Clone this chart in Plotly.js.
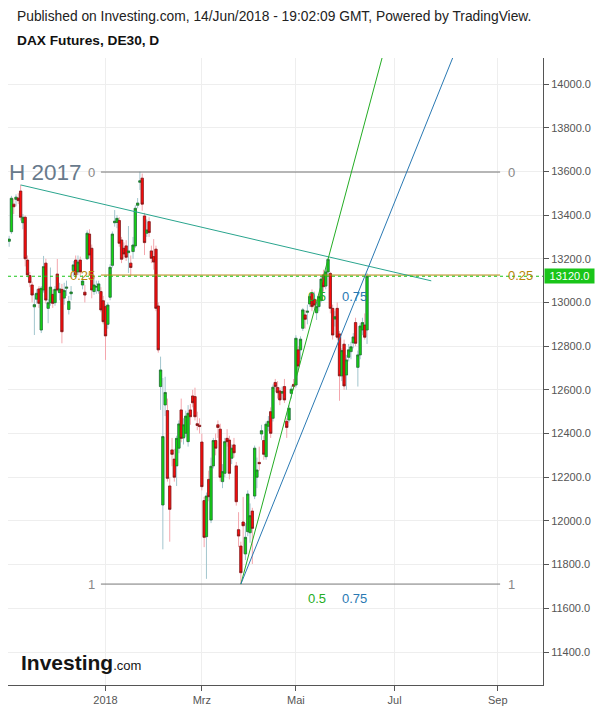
<!DOCTYPE html>
<html><head><meta charset="utf-8">
<script src="https://cdn.plot.ly/plotly-3.0.1.min.js"></script>
<style>html,body{margin:0;padding:0;background:#fff;}#chart{width:600px;height:708px;}</style>
</head><body><div id="chart"></div>
<script>
// ---- daily OHLC, DAX Futures (DE30), 31 Oct 2017 – 14 Jun 2018 ----
const dates = [
 '2017-10-31',
 '2017-11-01','2017-11-02','2017-11-03','2017-11-06','2017-11-07','2017-11-08','2017-11-09','2017-11-10','2017-11-13','2017-11-14','2017-11-15','2017-11-16','2017-11-17','2017-11-20','2017-11-21','2017-11-22','2017-11-23','2017-11-24','2017-11-27','2017-11-28','2017-11-29','2017-11-30',
 '2017-12-01','2017-12-04','2017-12-05','2017-12-06','2017-12-07','2017-12-08','2017-12-11','2017-12-12','2017-12-13','2017-12-14','2017-12-15','2017-12-18','2017-12-19','2017-12-20','2017-12-21','2017-12-22','2017-12-27','2017-12-28','2017-12-29',
 '2018-01-02','2018-01-03','2018-01-04','2018-01-05','2018-01-08','2018-01-09','2018-01-10','2018-01-11','2018-01-12','2018-01-15','2018-01-16','2018-01-17','2018-01-18','2018-01-19','2018-01-22','2018-01-23','2018-01-24','2018-01-25','2018-01-26','2018-01-29','2018-01-30','2018-01-31',
 '2018-02-01','2018-02-02','2018-02-05','2018-02-06','2018-02-07','2018-02-08','2018-02-09','2018-02-12','2018-02-13','2018-02-14','2018-02-15','2018-02-16','2018-02-19','2018-02-20','2018-02-21','2018-02-22','2018-02-23','2018-02-26','2018-02-27','2018-02-28',
 '2018-03-01','2018-03-02','2018-03-05','2018-03-06','2018-03-07','2018-03-08','2018-03-09','2018-03-12','2018-03-13','2018-03-14','2018-03-15','2018-03-16','2018-03-19','2018-03-20','2018-03-21','2018-03-22','2018-03-23','2018-03-26','2018-03-27','2018-03-28','2018-03-29',
 '2018-04-03','2018-04-04','2018-04-05','2018-04-06','2018-04-09','2018-04-10','2018-04-11','2018-04-12','2018-04-13','2018-04-16','2018-04-17','2018-04-18','2018-04-19','2018-04-20','2018-04-23','2018-04-24','2018-04-25','2018-04-26','2018-04-27','2018-04-30',
 '2018-05-02','2018-05-03','2018-05-04','2018-05-07','2018-05-08','2018-05-09','2018-05-10','2018-05-11','2018-05-14','2018-05-15','2018-05-16','2018-05-17','2018-05-18','2018-05-21','2018-05-22','2018-05-23','2018-05-24','2018-05-25','2018-05-28','2018-05-29','2018-05-30','2018-05-31',
 '2018-06-01','2018-06-04','2018-06-05','2018-06-06','2018-06-07','2018-06-08','2018-06-11','2018-06-12','2018-06-13','2018-06-14'
];
const open = [
 13280,
 13324,13450,13472,13478,13510,13365,13390,13194,13123,13080,12980,13015,13062,12874,13057,13180,12973,12999,13037,12999,13130,13045,
 13060,13020,13065,12968,13040,13146,13194,13140,13194,13080,13047,13200,13313,13248,13050,13070,13053,13050,13008,
 12981,12900,13024,13170,13365,13366,13375,13286,13248,13259,13228,13180,13233,13259,13445,13550,13569,13396,13317,13370,13236,13210,
 13244,12984,12615,12073,12531,12505,12160,12325,12283,12252,12333,12508,12380,12401,12363,12508,12572,12569,12445,12438,
 12361,12093,11928,12190,12004,12252,12368,12440,12420,12180,12218,12378,12370,12287,12348,12252,11960,11885,11995,11849,11951,
 11946,12045,12114,12200,12268,12398,12368,12294,12433,12500,12470,12634,12611,12595,12585,12615,12456,12462,12584,12625,
 12622,12783,12783,12882,12943,12955,12993,13042,13015,12953,12981,13011,13126,13075,13140,13133,12973,12924,12973,12856,12664,12809,
 12668,12749,12775,12815,12908,12703,12760,12874,12897,12874
];
const high = [
 13305,
 13488,13475,13495,13500,13538,13405,13398,13215,13140,13095,13040,13060,13075,13075,13213,13200,13015,13160,13060,13075,13199,13090,
 13085,13090,13100,13030,13075,13190,13215,13215,13210,13125,13080,13330,13335,13265,13110,13100,13100,13070,13030,
 12990,13000,13175,13325,13423,13400,13390,13300,13275,13285,13350,13215,13300,13445,13478,13599,13590,13410,13380,13390,13260,13290,
 13260,13000,12752,12654,12660,12560,12200,12380,12330,12390,12460,12560,12470,12505,12530,12535,12600,12610,12500,12470,
 12400,12110,12130,12230,12290,12380,12400,12460,12445,12260,12380,12420,12390,12350,12380,12270,12040,11905,12110,11990,12140,
 12080,12060,12345,12290,12340,12440,12390,12455,12480,12520,12625,12650,12640,12610,12615,12650,12470,12530,12620,12650,
 12850,12800,12845,12975,12965,12990,13040,13060,13050,13000,13035,13120,13150,13150,13205,13140,12990,12960,13000,12870,12790,12830,
 12760,12810,12820,12860,12930,12780,12905,12930,12950,13135
];
const low = [
 13255,
 13314,13405,13440,13450,13375,13335,13165,13115,13070,13000,12851,12995,12975,12860,13045,12995,12905,12985,12975,12985,13050,13010,
 12813,12990,13030,12945,13010,13120,13110,13125,13120,13060,13000,13195,13200,13019,13035,13040,13040,12955,12900,
 12737,12880,13010,13160,13347,13340,13255,13180,13200,13190,13135,13120,13200,13250,13431,13515,13420,13217,13300,13300,13180,13150,
 12960,12770,12508,11870,12480,12180,11905,12250,12180,12160,12310,12360,12350,12385,12340,12440,12520,12460,12415,12400,
 12140,11880,11735,12090,11990,12240,12300,12380,12180,12150,12200,12340,12190,12260,12290,12070,11880,11711,11850,11821,11930,
 11900,11803,12100,12150,12230,12370,12280,12280,12410,12380,12455,12590,12560,12530,12555,12540,12380,12450,12560,12600,
 12610,12680,12740,12870,12880,12900,12980,12960,12970,12920,12960,13000,13050,13060,13125,12950,12830,12890,12830,12550,12640,12600,
 12600,12730,12740,12790,12800,12615,12740,12850,12830,12810
];
const close = [
 13290,
 13477,13438,13482,13466,13390,13390,13200,13126,13091,13034,12990,13042,12996,13065,13164,13011,12999,13070,12996,13060,13057,13062,
 12866,13055,13070,13005,13048,13172,13126,13185,13140,13098,13034,13317,13217,13057,13080,13073,13085,12966,12912,
 12847,12988,13161,13313,13372,13385,13271,13198,13222,13207,13236,13160,13263,13431,13455,13557,13450,13274,13332,13320,13202,13185,
 12973,12783,12691,12386,12588,12195,12053,12305,12200,12378,12444,12378,12440,12480,12493,12477,12541,12477,12437,12432,
 12157,11925,12114,12111,12250,12368,12333,12428,12200,12226,12363,12363,12218,12333,12312,12088,11931,11763,11978,11925,12123,
 12024,11966,12333,12233,12262,12413,12305,12443,12456,12401,12612,12615,12587,12554,12592,12554,12428,12516,12603,12616,
 12836,12709,12832,12966,12923,12960,13027,12981,12988,12981,13027,13107,13072,13140,13197,12973,12851,12935,12841,12664,12780,12618,
 12737,12783,12797,12842,12813,12760,12892,12908,12841,13120
];

// ---- axis ----
const tickDates  = ['2018-01-02','2018-03-01','2018-05-02','2018-07-02','2018-09-03'];
const tickLabels = ['2018','Mrz','Mai','Jul','Sep'];
const holidays   = ['2017-12-25','2017-12-26','2018-01-01','2018-03-30','2018-04-02','2018-05-01'];
const yTicks     = [11400,11600,11800,12000,12200,12400,12600,12800,13000,13200,13400,13600,13800,14000];

// ---- drawings ----
const fibHigh = 13597, fibLow = 11711;
const fibLevels = [0, 0.25, 1];
const fibSpan = ['2017-12-28','2018-09-04'];
const fanOrigin = ['2018-03-26', 11711];
const fanTop = 13002;
const fanLabels = ['0.5','0.75'];
const fanLabelDates = ['2018-05-15 12:00','2018-06-07 00:00'];
const fanEnds = [['2018-06-25', 14137], ['2018-08-07', 14137]];
const trendLine = [['2017-11-07', 13538], ['2018-07-24', 13099]];

// ---- colours ----
const C = {
  upBody:'#12d712', upLine:'#24692e', upWick:'#a2c6ce',
  dnBody:'#ff0a0a', dnLine:'#6b1a1a', dnWick:'#f4a6ad',
  fibGray:'#777777', fibGold:'#b8860b', fibLabel:'#888888',
  fan:['#24ad24','#2a79b3'], trend:'#2aa58e', price:'#19c519'
};
const FONT = 'Liberation Sans, Arial, Helvetica, sans-serif';
const mid = d => d.length > 10 ? d : d + ' 12:00';
const X = dates.map(mid);

const bodyHi = open.map((o,i) => Math.max(o, close[i]));
const bodyLo = open.map((o,i) => Math.min(o, close[i]));

const traces = [];
traces.push({
  type:'candlestick', x:X, open:open, high:high, low:low, close:close,
  increasing:{line:{color:C.upWick,width:1}, fillcolor:C.upWick},
  decreasing:{line:{color:C.dnWick,width:1}, fillcolor:C.dnWick},
  whiskerwidth:0, hoverinfo:'skip', showlegend:false
});
traces.push({
  type:'candlestick', x:X, open:open, high:bodyHi, low:bodyLo, close:close,
  increasing:{line:{color:C.upLine,width:0.7}, fillcolor:C.upBody},
  decreasing:{line:{color:C.dnLine,width:0.7}, fillcolor:C.dnBody},
  whiskerwidth:0, hoverinfo:'skip', showlegend:false
});

const fibPrice = l => fibHigh - l*(fibHigh - fibLow);
fibLevels.forEach(l => {
  traces.push({type:'scatter', mode:'lines', x:fibSpan.map(mid), y:[fibPrice(l),fibPrice(l)],
    line:{color: l===0.25 ? C.fibGold : C.fibGray, width:1}, hoverinfo:'skip', showlegend:false});
});
traces.push({type:'scatter', mode:'lines', x:trendLine.map(p=>mid(p[0])), y:trendLine.map(p=>p[1]),
  line:{color:C.trend,width:1}, hoverinfo:'skip', showlegend:false});
fanEnds.forEach((e,i) => {
  traces.push({type:'scatter', mode:'lines', x:[mid(fanOrigin[0]), mid(e[0])], y:[fanOrigin[1], e[1]],
    line:{color:C.fan[i],width:1}, hoverinfo:'skip', showlegend:false});
});

const lastClose = close[close.length-1];
const shapes = [{type:'line', xref:'paper', x0:0, x1:1, yref:'y', y0:lastClose, y1:lastClose,
  line:{color:C.price, width:1, dash:'dot'}, layer:'above'}];

const px = v => (v - 8)/535, py = v => (685 - v)/627;
const ann = [];
ann.push({xref:'paper', yref:'paper', x:px(15), y:py(17), xanchor:'left', yanchor:'middle', showarrow:false,
  text:'Published on Investing.com, 14/Jun/2018 - 19:02:09 GMT, Powered by TradingView.', font:{size:13.8,color:'#222',family:FONT}});
ann.push({xref:'paper', yref:'paper', x:px(15), y:py(40), xanchor:'left', yanchor:'middle', showarrow:false,
  text:'<b>DAX Futures, DE30, D</b>', font:{size:13.7,color:'#111',family:FONT}});
ann.push({xref:'paper', yref:'paper', x:px(19), y:py(662), xanchor:'left', yanchor:'middle', showarrow:false,
  text:'<b>Investing</b><span style="font-size:13px;">.com</span>', font:{size:21,color:'#151515',family:FONT}});
ann.push({xref:'x', yref:'y', x:mid(fibSpan[0]), y:fibHigh, xanchor:'right', yanchor:'middle', xshift:-17, showarrow:false,
  text:'H 2017', font:{size:22.5,color:'#687a8c',family:FONT}});
fibLevels.forEach(l => {
  const col = l===0.25 ? C.fibGold : C.fibLabel;
  ann.push({xref:'x', yref:'y', x:mid(fibSpan[0]), y:fibPrice(l), xanchor:'right', yanchor:'middle', xshift:-4, showarrow:false,
    text:String(l), font:{size:13,color:col,family:FONT}});
  ann.push({xref:'x', yref:'y', x:mid(fibSpan[1]), y:fibPrice(l), xanchor:'left', yanchor:'middle', xshift:6, showarrow:false,
    text:String(l), font:{size:13,color:col,family:FONT}});
});
fanLabels.forEach((t,i) => {
  ann.push({xref:'x', yref:'y', x:fanLabelDates[i], y:fanOrigin[1], yshift:-14, xanchor:'center', yanchor:'middle', showarrow:false,
    text:t, font:{size:13,color:C.fan[i],family:FONT}});
  ann.push({xref:'x', yref:'y', x:fanLabelDates[i], y:fanTop, yshift:6, xanchor:'center', yanchor:'middle', showarrow:false,
    text:t, font:{size:13,color:C.fan[i],family:FONT}});
});
ann.push({xref:'paper', yref:'y', x:1, y:lastClose, xanchor:'left', yanchor:'middle', xshift:1, showarrow:false,
  text:lastClose.toFixed(1), bgcolor:C.price, borderpad:1, width:47, font:{size:11,color:'#ffffff',family:FONT}});

const layout = {
  width:600, height:708, margin:{l:8, r:57, t:58, b:23},
  paper_bgcolor:'#ffffff', plot_bgcolor:'#ffffff', showlegend:false,
  font:{family:FONT, size:11, color:'#555'},
  boxgap:0, boxgroupgap:0,
  xaxis:{type:'date', range:['2017-10-31 00:00','2018-10-01 04:48'],
    rangebreaks:[{bounds:['sat','mon']},{values:holidays}],
    rangeslider:{visible:false},
    tickmode:'array', tickvals:tickDates.map(mid), ticktext:tickLabels,
    ticks:'outside', ticklen:5, tickcolor:'#555', showline:true, linecolor:'#555', linewidth:1,
    showgrid:true, gridcolor:'#eeeeee', zeroline:false, tickfont:{size:11,color:'#555',family:FONT}},
  yaxis:{side:'right', range:[11249,14119], tickmode:'array', tickvals:yTicks, ticktext:yTicks.map(v=>v.toFixed(1)),
    ticks:'outside', ticklen:5, tickcolor:'#555', showline:true, linecolor:'#555', linewidth:1,
    showgrid:true, gridcolor:'#eeeeee', zeroline:false, tickfont:{size:11,color:'#555',family:FONT}},
  shapes:shapes, annotations:ann
};
Plotly.newPlot('chart', traces, layout, {displayModeBar:false, staticPlot:true});
</script></body></html>
